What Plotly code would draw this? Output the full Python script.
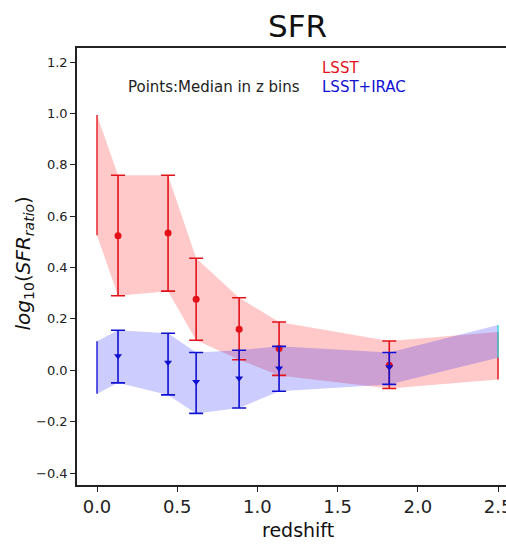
import plotly.graph_objects as go

# Redshift bin centres (interior) plus the band end points at z=0 and z=2.5
band_z = [0.0, 0.131, 0.443, 0.618, 0.886, 1.135, 1.822, 2.5]

# LSST: 16th-84th percentile band and medians
lsst_hi = [0.994, 0.759, 0.759, 0.436, 0.282, 0.188, 0.114, 0.149]
lsst_lo = [0.526, 0.290, 0.308, 0.117, 0.041, -0.020, -0.071, -0.036]
lsst_med = [0.524, 0.534, 0.276, 0.160, 0.085, 0.019]

# LSST+IRAC
irac_hi = [0.113, 0.156, 0.144, 0.069, 0.078, 0.093, 0.069, 0.176]
irac_lo = [-0.091, -0.049, -0.096, -0.168, -0.147, -0.082, -0.055, 0.049]
irac_med = [0.055, 0.030, -0.045, -0.031, 0.008, 0.013]

x_ticks = [0.0, 0.5, 1.0, 1.5, 2.0, 2.5]
y_ticks = [-0.4, -0.2, 0.0, 0.2, 0.4, 0.6, 0.8, 1.0, 1.2]

RED = "#e3121a"
BLUE = "#1010d2"
FONT = "DejaVu Sans"

fig = go.Figure()


def add_band(hi, lo, fill, edge_left, edge_right):
    xs = band_z + band_z[::-1]
    ys = hi + lo[::-1]
    fig.add_trace(go.Scatter(x=xs, y=ys, mode="lines", fill="toself",
                             fillcolor=fill, line=dict(width=0),
                             hoverinfo="skip", showlegend=False))
    # vertical edges of the band at both ends
    fig.add_trace(go.Scatter(x=[band_z[0], band_z[0]], y=[lo[0], hi[0]],
                             mode="lines", line=dict(color=edge_left, width=1.6),
                             hoverinfo="skip", showlegend=False))
    fig.add_trace(go.Scatter(x=[band_z[-1], band_z[-1]], y=[lo[-1], hi[-1]],
                             mode="lines", line=dict(color=edge_right, width=1.6),
                             hoverinfo="skip", showlegend=False))


add_band(lsst_hi, lsst_lo, "rgba(255,0,0,0.21)", "rgba(227,18,26,0.85)", "rgba(227,18,26,0.9)")
add_band(irac_hi, irac_lo, "rgba(0,0,255,0.2)", "rgba(16,16,210,0.85)", "rgba(60,220,230,0.9)")


def add_points(med, hi, lo, color, symbol):
    zc = band_z[1:-1]
    up = [h - m for h, m in zip(hi[1:-1], med)]
    dn = [m - l for m, l in zip(med, lo[1:-1])]
    fig.add_trace(go.Scatter(
        x=zc, y=med, mode="markers",
        marker=dict(color=color, size=7, symbol=symbol),
        error_y=dict(type="data", symmetric=False, array=up, arrayminus=dn,
                     color=color, thickness=1.6, width=7),
        showlegend=False))


add_points(lsst_med, lsst_hi, lsst_lo, RED, "circle")
add_points(irac_med, irac_hi, irac_lo, BLUE, "triangle-down")

fig.add_annotation(x=0.181, y=1.102, xref="x", yref="y", text="Points:Median in z bins",
                   showarrow=False, xanchor="left", yanchor="middle",
                   font=dict(family=FONT, size=15, color="#222"))
fig.add_annotation(x=1.39, y=1.177, xref="x", yref="y", text="LSST",
                   showarrow=False, xanchor="left", yanchor="middle",
                   font=dict(family=FONT, size=15, color=RED))
fig.add_annotation(x=1.39, y=1.102, xref="x", yref="y", text="LSST+IRAC",
                   showarrow=False, xanchor="left", yanchor="middle",
                   font=dict(family=FONT, size=15, color=BLUE))

# Axis titles
fig.add_annotation(x=0, y=0.507, xref="paper", yref="paper", xshift=-53,
                   text="<i>log</i><sub>10</sub>(<i>SFR</i><sub><i>ratio</i></sub>)",
                   textangle=-90, showarrow=False, xanchor="center", yanchor="middle",
                   font=dict(family=FONT, size=20, color="#111"))
fig.add_annotation(x=0.514, y=0, xref="paper", yref="paper", yshift=-45,
                   text="redshift", showarrow=False, xanchor="center", yanchor="middle",
                   font=dict(family=FONT, size=19, color="#111"))
fig.add_annotation(x=0.514, y=1, xref="paper", yref="paper", yshift=22,
                   text="SFR", showarrow=False, xanchor="center", yanchor="middle",
                   font=dict(family=FONT, size=31, color="#111"))

fig.update_layout(
    width=506, height=548,
    margin=dict(l=77, r=0, t=48, b=63, autoexpand=False),
    paper_bgcolor="white", plot_bgcolor="white",
    font=dict(family=FONT, color="#222"),
)
fig.update_xaxes(range=[-0.1247, 2.5497], tickvals=x_ticks,
                 ticktext=[f"{v:.1f}" for v in x_ticks], automargin=False,
                 showgrid=False, zeroline=False, ticklabeloverflow="allow",
                 showline=True, linecolor="#222", linewidth=1.5, mirror=True,
                 ticks="outside", ticklen=5, tickwidth=1.2, tickcolor="#222",
                 tickfont=dict(family=FONT, size=18, color="#222"))
fig.update_yaxes(range=[-0.4467, 1.2545], tickvals=y_ticks,
                 ticktext=[f"{v:.1f}".replace("-", "\u2212") for v in y_ticks],
                 automargin=False,
                 showgrid=False, zeroline=False,
                 showline=True, linecolor="#222", linewidth=1.5, mirror=False,
                 ticks="outside", ticklen=5, tickwidth=1.2, tickcolor="#222",
                 tickfont=dict(family=FONT, size=13, color="#222"))

fig.write_html("out.html")
